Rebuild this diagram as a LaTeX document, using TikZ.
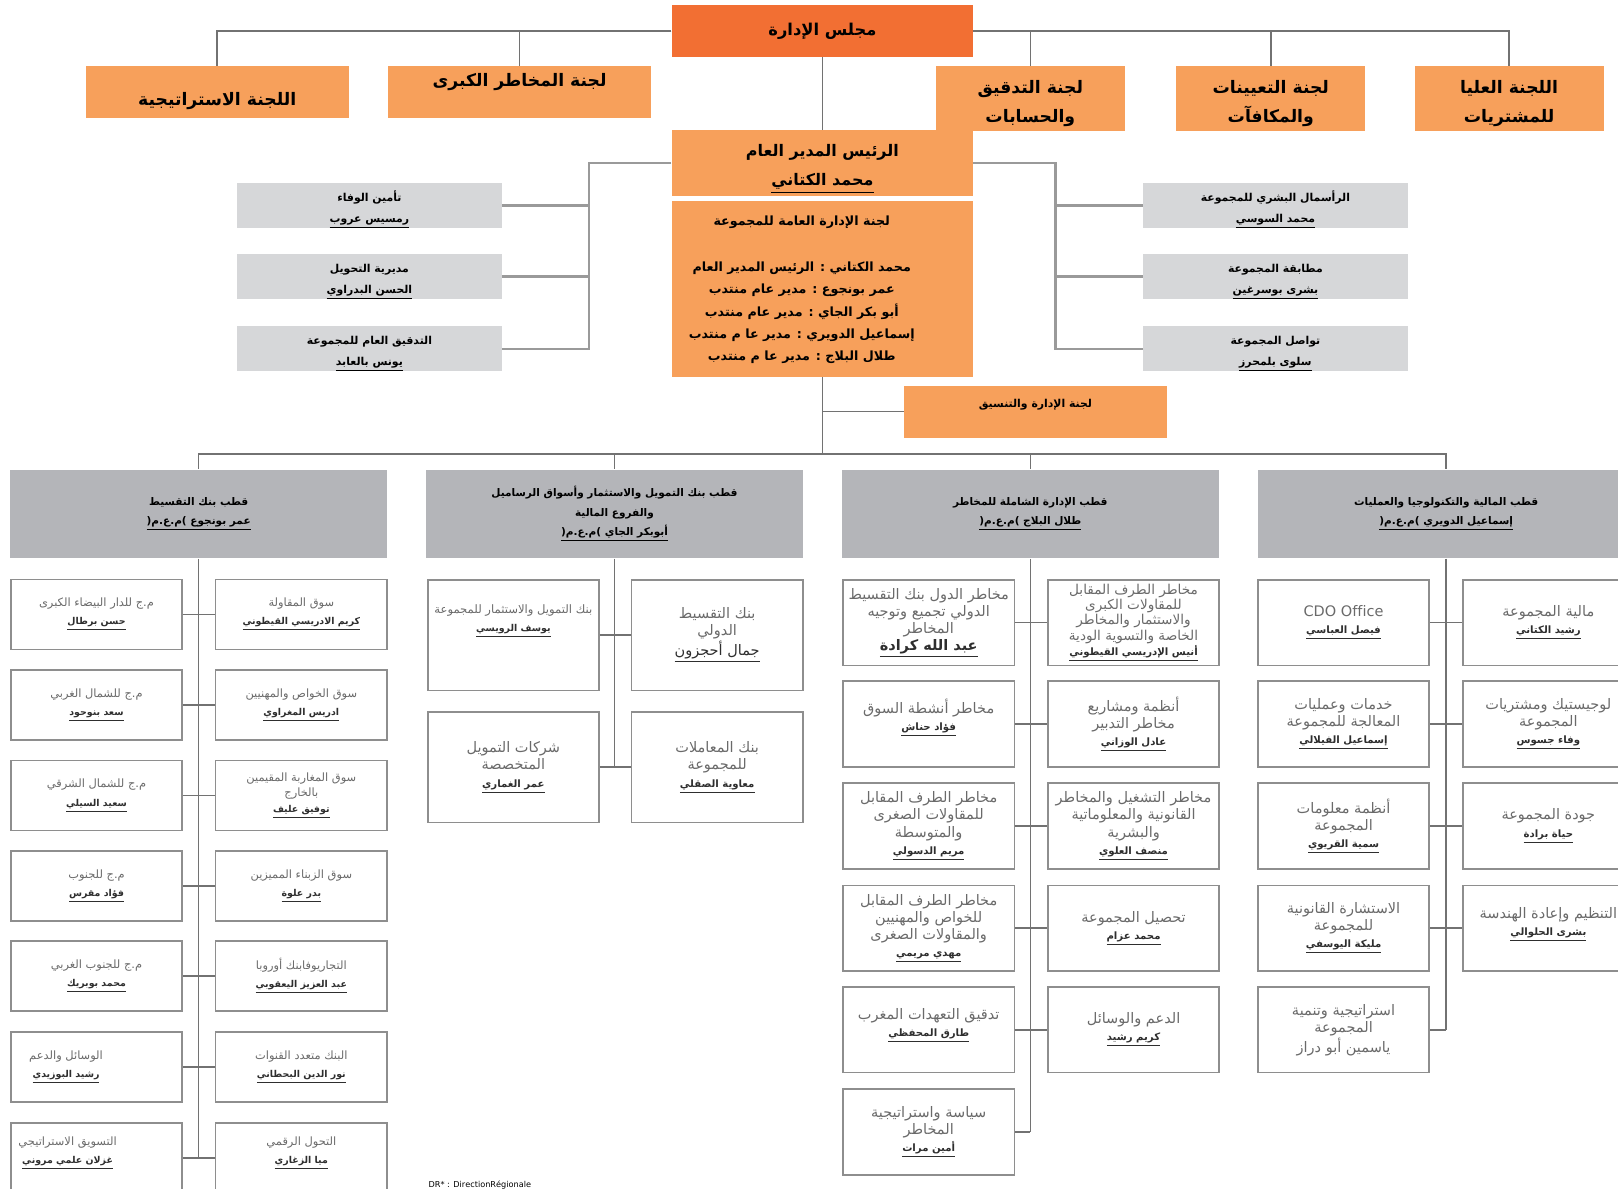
\documentclass[tikz,border=0pt]{standalone}
\usepackage{fontspec}
\newfontfamily\arabicfont[Script=Arabic]{DejaVu Sans}
\TeXXeTstate=1

\definecolor{boardorange}{HTML}{F26F33}
\definecolor{comorange}{HTML}{F7A05B}
\definecolor{sidegray}{HTML}{D6D7D9}
\definecolor{polegray}{HTML}{B4B5B9}
\definecolor{linegray}{HTML}{727272}
\definecolor{brgray}{HTML}{9A9A9A}
\definecolor{boxline}{HTML}{8E8E8E}
\definecolor{titlegray}{HTML}{6A6A6A}
\definecolor{namegray}{HTML}{2E2E2E}

\newdimen\pxu
\pxu=0.02cm

\newcommand{\arb}[1]{\beginR #1\endR}
\newcommand{\nm}[1]{\underline{\beginR #1\endR}}
\newcommand{\unm}[1]{{\color{namegray}\bfseries\underline{\beginR #1\endR}}}
\newcommand{\snm}[1]{{\fontsize{5.6pt}{9.4pt}\selectfont\unm{#1}}}
\newcommand{\tnm}[1]{{\fontsize{5.2pt}{10pt}\selectfont\unm{#1}}}
\newcommand{\pnm}[1]{\underline{(\beginR م.ع.م\endR) \beginR #1\endR}}

\tikzset{
  box/.style={inner sep=0pt, align=center},
  boardbox/.style={box, fill=boardorange, minimum width=292\pxu, minimum height=50\pxu, font=\arabicfont\bfseries\fontsize{9pt}{12pt}\selectfont},
  combox/.style={box, fill=comorange, minimum width=255\pxu, minimum height=50\pxu, font=\arabicfont\bfseries\fontsize{9.5pt}{16pt}\selectfont},
  comboxtall/.style={combox, minimum width=183\pxu, minimum height=63\pxu, text height=26.6pt, text depth=0pt},
  ceobox/.style={box, fill=comorange, minimum width=292\pxu, minimum height=64\pxu, text height=25.3pt, text depth=0pt, font=\arabicfont\bfseries\fontsize{8.8pt}{16.5pt}\selectfont},
  execbox/.style={box, fill=comorange, minimum width=292\pxu, minimum height=170\pxu, font=\arabicfont\bfseries\fontsize{7pt}{12.4pt}\selectfont},
  sidebox/.style={box, fill=sidegray, minimum width=256\pxu, minimum height=44\pxu, text height=18.6pt, text depth=0.2pt, font=\arabicfont\bfseries\fontsize{6pt}{11.4pt}\selectfont},
  coordbox/.style={box, fill=comorange, minimum width=255\pxu, minimum height=50\pxu, font=\arabicfont\bfseries\fontsize{6pt}{10pt}\selectfont},
  polebox/.style={box, fill=polegray, minimum width=365\pxu, minimum height=86\pxu, font=\arabicfont\bfseries\fontsize{5.8pt}{10.5pt}\selectfont},
  unit/.style={box, draw=boxline, line width=0.9pt, minimum width=166\pxu, text=titlegray},
  unitsmall/.style={unit, minimum height=68\pxu, font=\arabicfont\fontsize{6.3pt}{10pt}\selectfont},
  unitmid/.style={unit, minimum height=107\pxu, font=\arabicfont\fontsize{8pt}{9.7pt}\selectfont},
  unitrisk/.style={unit, minimum height=83\pxu, font=\arabicfont\fontsize{8pt}{9.4pt}\selectfont},
  conn/.style={draw=linegray, line width=0.8pt},
  bracket/.style={draw=brgray, line width=1.3pt}
}

\begin{document}
\begin{tikzpicture}[x=\pxu, y=-\pxu]
    \useasboundingbox (0,0) rectangle (1568,1152);
    \clip (0,0) rectangle (1568,1152);

    \node[boardbox] (board) at (797, 30) {\arb{مجلس الإدارة}};

    \node[combox, text height=17.4pt, text depth=2pt] (cstrat) at (210.5, 89) {\arb{اللجنة الاستراتيجية}};
    \node[combox, text height=7pt, text depth=13.2pt] (cmaj) at (503.5, 89) {\arb{لجنة المخاطر الكبرى}};
    \node[comboxtall] (caud) at (998.5, 95.5) {\arb{لجنة التدقيق}\\\arb{والحسابات}};
    \node[comboxtall] (cnom) at (1231.5, 95.5) {\arb{لجنة التعيينات}\\\arb{والمكافآت}};
    \node[comboxtall] (cpur) at (1462.5, 95.5) {\arb{اللجنة العليا}\\\arb{للمشتريات}};

    \node[ceobox] (ceo) at (797, 158) {\arb{الرئيس المدير العام}\\\nm{محمد الكتاني}};
    \node[execbox] (exec) at (797, 280) {\begin{tabular}{@{}c@{}}\arb{لجنة الإدارة العامة للمجموعة}\\[22\pxu]
        \arb{محمد الكتاني : الرئيس المدير العام}\\
        \arb{عمر بونجوع : مدير عام منتدب}\\
        \arb{أبو بكر الجاي : مدير عام منتدب}\\
        \arb{إسماعيل الدويري : مدير عا م منتدب}\\
        \arb{طلال البلاج : مدير عا م منتدب}\end{tabular}\hspace*{40\pxu}};

    \node[sidebox] (sl1) at (358, 199) {\arb{تأمين الوفاء}\\\nm{رمسيس عروب}};
    \node[sidebox] (sl2) at (358, 268) {\arb{مديرية التحويل}\\\nm{الحسن البدراوي}};
    \node[sidebox] (sl3) at (358, 338) {\arb{التدقيق العام للمجموعة}\\\nm{يونس بالعابد}};
    \node[sidebox] (sr1) at (1236, 199) {\arb{الرأسمال البشري للمجموعة}\\\nm{محمد السوسي}};
    \node[sidebox] (sr2) at (1236, 268) {\arb{مطابقة المجموعة}\\\nm{بشرى بوسرغين}};
    \node[sidebox] (sr3) at (1236, 338) {\arb{تواصل المجموعة}\\\nm{سلوى بلمحرز}};

    \node[coordbox, text height=5pt, text depth=9.2pt] (coord) at (1003.5, 399) {\arb{لجنة الإدارة والتنسيق}};

    \coordinate (lbus) at (571, 158);
    \coordinate (rbus) at (1023, 158);
    \coordinate (bus) at (797, 440);

    \node[polebox] (p1) at (192.5, 498) {\arb{قطب بنك التقسيط}\\\pnm{عمر بونجوع}};
    \node[polebox] (p2) at (595.5, 498) {\arb{قطب بنك التمويل والاستثمار وأسواق الرساميل}\\\arb{والفروع المالية}\\\pnm{أبوبكر الجاي}};
    \node[polebox] (p3) at (998.5, 498) {\arb{قطب الإدارة الشاملة للمخاطر}\\\pnm{طلال البلاج}};
    \node[polebox] (p4) at (1401.5, 498) {\arb{قطب المالية والتكنولوجيا والعمليات}\\\pnm{إسماعيل الدويري}};

    \node[unitsmall] (u1a1) at (93.5, 595.5) {\arb{م.ج للدار البيضاء الكبرى}\\\tnm{حسن برطال}};
    \node[unitsmall] (u1b1) at (292, 595.5) {\arb{سوق المقاولة}\\\tnm{كريم الادريسي القيطوني}};
    \node[unitsmall] (u1a2) at (93.5, 683) {\arb{م.ج للشمال الغربي}\\\tnm{سعد بنوحود}};
    \node[unitsmall] (u1b2) at (292, 683) {\arb{سوق الخواص والمهنيين}\\\tnm{ادريس المغراوي}};
    \node[unitsmall] (u1a3) at (93.5, 771) {\arb{م.ج للشمال الشرقي}\\\tnm{سعيد السيلي}};
    \node[unitsmall, font=\arabicfont\fontsize{6.3pt}{8.5pt}\selectfont] (u1b3) at (292, 771) {\arb{سوق المغاربة المقيمين}\\\arb{بالخارج}\\\tnm{توفيق عليف}};
    \node[unitsmall] (u1a4) at (93.5, 858.5) {\arb{م.ج للجنوب}\\\tnm{فؤاد مقرس}};
    \node[unitsmall] (u1b4) at (292, 858.5) {\arb{سوق الزبناء المميزين}\\\tnm{بدر علوة}};
    \node[unitsmall] (u1a5) at (93.5, 946) {\arb{م.ج للجنوب الغربي}\\\tnm{محمد بوبريك}};
    \node[unitsmall] (u1b5) at (292, 946) {\arb{التجاريوفابنك أوروبا}\\\tnm{عبد العزيز اليعقوبي}};
    \node[unitsmall] (u1a6) at (93.5, 1034) {\arb{الوسائل والدعم}\hspace*{59\pxu}\\\tnm{رشيد البوزيدي}\hspace*{59\pxu}};
    \node[unitsmall] (u1b6) at (292, 1034) {\arb{البنك متعدد القنوات}\\\tnm{نور الدين البحطاني}};
    \node[unitsmall, text height=16.3pt, text depth=10.4pt] (u1a7) at (93.5, 1122) {\arb{التسويق الاستراتيجي}\hspace*{56\pxu}\\\tnm{غزلان علمي مروني}\hspace*{56\pxu}};
    \node[unitsmall, text height=16.3pt, text depth=10.4pt] (u1b7) at (292, 1122) {\arb{التحول الرقمي}\\\tnm{ميا الزغاري}};

    \node[unitmid, font=\arabicfont\fontsize{6.4pt}{10pt}\selectfont, text height=16pt, text depth=20pt] (u2a1) at (497.5, 615.5) {\arb{بنك التمويل والاستثمار للمجموعة}\\\tnm{يوسف الرويسي}};
    \node[unitmid] (u2b1) at (695, 615.5) {\arb{بنك التقسيط}\\\arb{الدولي}\\{\color{namegray}\nm{جمال أحجزون}}};
    \node[unitmid] (u2a2) at (497.5, 743.5) {\arb{شركات التمويل}\\\arb{المتخصصة}\\\snm{عمر الغماري}};
    \node[unitmid] (u2b2) at (695, 743.5) {\arb{بنك المعاملات}\\\arb{للمجموعة}\\\snm{معاوية الصقلي}};

    \node[unitrisk] (u3a1) at (900, 603.5) {\arb{مخاطر الدول بنك التقسيط}\\\arb{الدولي تجميع وتوجيه}\\\arb{المخاطر}\\\unm{عبد الله كرادة}};
    \node[unitrisk, font=\arabicfont\fontsize{7.5pt}{8.5pt}\selectfont] (u3b1) at (1098.5, 603.5) {\arb{مخاطر الطرف المقابل}\\\arb{للمقاولات الكبرى}\\\arb{والاستثمار والمخاطر}\\\arb{الخاصة والتسوية الودية}\\\snm{أنيس الإدريسي القيطوني}};
    \node[unitrisk, text height=17pt, text depth=10pt] (u3a2) at (900, 701.5) {\arb{مخاطر أنشطة السوق}\\\snm{فؤاد حناش}};
    \node[unitrisk] (u3b2) at (1098.5, 701.5) {\arb{أنظمة ومشاريع}\\\arb{مخاطر التدبير}\\\snm{عادل الوزاني}};
    \node[unitrisk] (u3a3) at (900, 800.5) {\arb{مخاطر الطرف المقابل}\\\arb{للمقاولات الصغرى}\\\arb{والمتوسطة}\\\snm{مريم الدسولي}};
    \node[unitrisk] (u3b3) at (1098.5, 800.5) {\arb{مخاطر التشغيل والمخاطر}\\\arb{القانونية والمعلوماتية}\\\arb{والبشرية}\\\snm{منصف العلوي}};
    \node[unitrisk] (u3a4) at (900, 899.5) {\arb{مخاطر الطرف المقابل}\\\arb{للخواص والمهنيين}\\\arb{والمقاولات الصغرى}\\\snm{مهدي مريمي}};
    \node[unitrisk] (u3b4) at (1098.5, 899.5) {\arb{تحصيل المجموعة}\\\snm{محمد عزام}};
    \node[unitrisk, text height=17pt, text depth=10pt] (u3a5) at (900, 998) {\arb{تدقيق التعهدات المغرب}\\\snm{طارق المحفظي}};
    \node[unitrisk] (u3b5) at (1098.5, 998) {\arb{الدعم والوسائل}\\\snm{كريم رشيد}};
    \node[unitrisk] (u3a6) at (900, 1097) {\arb{سياسة واستراتيجية}\\\arb{المخاطر}\\\snm{أمين مرات}};

    \node[unitrisk] (u4a1) at (1302, 603.5) {CDO Office\\\snm{فيصل العباسي}};
    \node[unitrisk] (u4b1) at (1500.5, 603.5) {\arb{مالية المجموعة}\\\snm{رشيد الكتاني}};
    \node[unitrisk] (u4a2) at (1302, 701.5) {\arb{خدمات وعمليات}\\\arb{المعالجة للمجموعة}\\\snm{إسماعيل الفيلالي}};
    \node[unitrisk] (u4b2) at (1500.5, 701.5) {\arb{لوجيستيك ومشتريات}\\\arb{المجموعة}\\\snm{وفاء جسوس}};
    \node[unitrisk] (u4a3) at (1302, 800.5) {\arb{أنظمة معلومات}\\\arb{المجموعة}\\\snm{سمية القريوي}};
    \node[unitrisk] (u4b3) at (1500.5, 800.5) {\arb{جودة المجموعة}\\\snm{حياة برادة}};
    \node[unitrisk] (u4a4) at (1302, 899.5) {\arb{الاستشارة القانونية}\\\arb{للمجموعة}\\\snm{مليكة اليوسفي}};
    \node[unitrisk, text height=17pt, text depth=9pt] (u4b4) at (1500.5, 899.5) {\arb{التنظيم وإعادة الهندسة}\\\snm{بشرى الحلوالي}};
    \node[unitrisk] (u4a5) at (1302, 998) {\arb{استراتيجية وتنمية}\\\arb{المجموعة}\\\arb{ياسمين أبو دراز}};

    \node[font=\arabicfont\fontsize{4.5pt}{5pt}\selectfont, inner sep=0pt] (dr) at (465, 1148) {DR* : DirectionRégionale};

    \draw[conn] (board.west) -| (cstrat.north);
    \draw[conn] (board.west) -| (cmaj.north);
    \draw[conn] (board.east) -| (caud.north);
    \draw[conn] (board.east) -| (cnom.north);
    \draw[conn] (board.east) -| (cpur.north);
    \draw[conn] (board.south) -- (ceo.north);

    \draw[bracket] (ceo.west) -- (lbus) -- (lbus |- sl3.east) -- (sl3.east);
    \draw[bracket] (sl1.east) -- (lbus |- sl1.east);
    \draw[bracket] (sl2.east) -- (lbus |- sl2.east);
    \draw[bracket] (ceo.east) -- (rbus) -- (rbus |- sr3.west) -- (sr3.west);
    \draw[bracket] (sr1.west) -- (rbus |- sr1.west);
    \draw[bracket] (sr2.west) -- (rbus |- sr2.west);

    \draw[conn] (exec.south) -- (bus);
    \draw[conn] (coord.west) -- (coord.west -| bus);
    \draw[conn] (bus) -| (p1.north);
    \draw[conn] (bus) -| (p2.north);
    \draw[conn] (bus) -| (p3.north);
    \draw[conn] (bus) -| (p4.north);

    \draw[conn] (p1.south) -- (p1.south |- u1a7.east);
    \draw[conn] (u1a1.east) -- (u1b1.west);
    \draw[conn] (u1a2.east) -- (u1b2.west);
    \draw[conn] (u1a3.east) -- (u1b3.west);
    \draw[conn] (u1a4.east) -- (u1b4.west);
    \draw[conn] (u1a5.east) -- (u1b5.west);
    \draw[conn] (u1a6.east) -- (u1b6.west);
    \draw[conn] (u1a7.east) -- (u1b7.west);

    \draw[conn] (p2.south) -- (p2.south |- u2a2.east);
    \draw[conn] (u2a1.east) -- (u2b1.west);
    \draw[conn] (u2a2.east) -- (u2b2.west);

    \draw[conn] (p3.south) -- (p3.south |- u3a6.east);
    \draw[conn] (u3a1.east) -- (u3b1.west);
    \draw[conn] (u3a2.east) -- (u3b2.west);
    \draw[conn] (u3a3.east) -- (u3b3.west);
    \draw[conn] (u3a4.east) -- (u3b4.west);
    \draw[conn] (u3a5.east) -- (u3b5.west);
    \draw[conn] (u3a6.east) -- (p3.south |- u3a6.east);

    \draw[conn] (p4.south) -- (p4.south |- u4a5.east);
    \draw[conn] (u4a1.east) -- (u4b1.west);
    \draw[conn] (u4a2.east) -- (u4b2.west);
    \draw[conn] (u4a3.east) -- (u4b3.west);
    \draw[conn] (u4a4.east) -- (u4b4.west);
    \draw[conn] (u4a5.east) -- (p4.south |- u4a5.east);
\end{tikzpicture}
\end{document}
